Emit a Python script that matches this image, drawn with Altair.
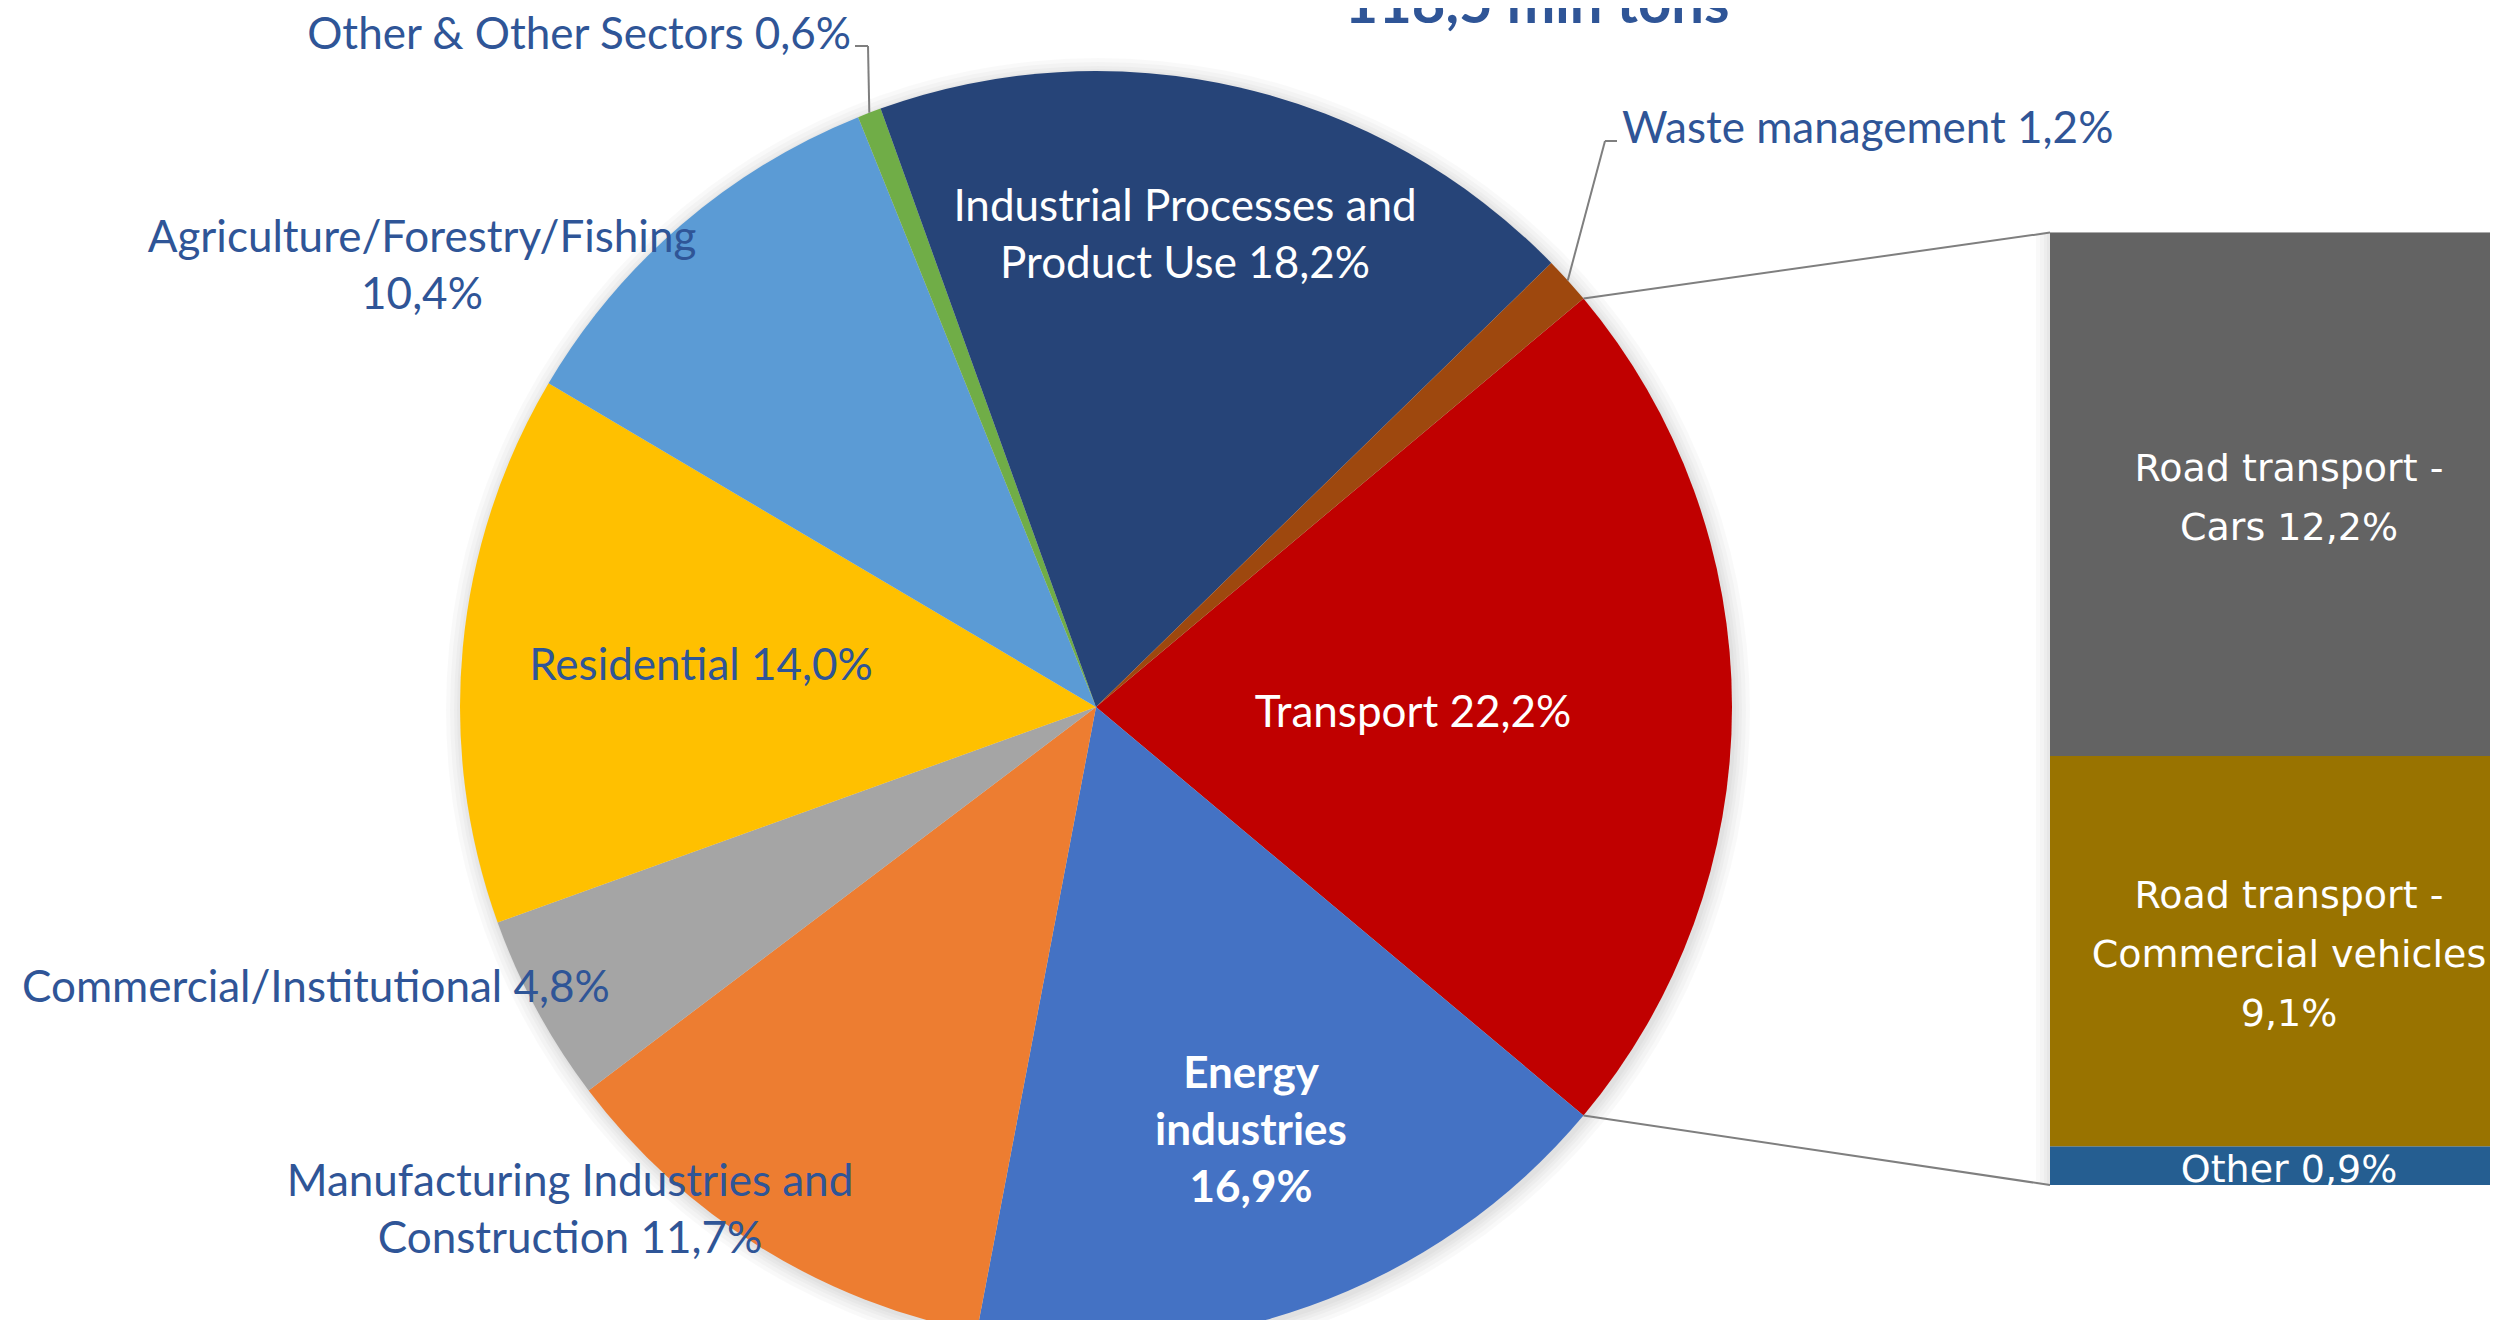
import math
import altair as alt
import pandas as pd

# ---------------- data ----------------
sectors = [
    "Transport",
    "Energy industries",
    "Manufacturing Industries and Construction",
    "Commercial/Institutional",
    "Residential",
    "Agriculture/Forestry/Fishing",
    "Other & Other Sectors",
    "Industrial Processes and Product Use",
    "Waste management",
]
shares = [22.2, 16.9, 11.7, 4.8, 14.0, 10.4, 0.6, 18.2, 1.2]
sector_colors = ["#C00000", "#4472C4", "#ED7D31", "#A5A5A5", "#FFC000",
                 "#5B9BD5", "#70AD47", "#264478", "#9E480E"]
sector_labels = [
    "Transport 22,2%",
    "Energy\nindustries\n16,9%",
    "Manufacturing Industries and\nConstruction 11,7%",
    "Commercial/Institutional 4,8%",
    "Residential 14,0%",
    "Agriculture/Forestry/Fishing\n10,4%",
    "Other & Other Sectors 0,6%",
    "Industrial Processes and\nProduct Use 18,2%",
    "Waste management 1,2%",
]

sub_categories = ["Road transport - Cars", "Road transport - Commercial vehicles", "Other"]
sub_shares = [12.2, 9.1, 0.9]
sub_colors = ["#636363", "#997300", "#255E91"]
sub_labels = ["Road transport -\nCars 12,2%",
              "Road transport -\nCommercial vehicles\n9,1%",
              "Other 0,9%"]

title_text = "118,5 mln tons"

# ---------------- layout ----------------
W, H = 2482, 1312
CX, CY, R = 1088, 699, 636
BAR_X0, BAR_X1 = 2042, 2520
BAR_TOP, BAR_BOTTOM = 224.6, 1177
TEXT_BLUE = "#2F5597"
LINE_GREY = "#7F7F7F"
FONT = "Lato"
PIE_FS, PIE_LH = 44, 57
BAR_FS, BAR_LH = 38, 59

# label placement (block centre in pixels, style per label)
label_layout = {
    "Transport": (1405, 703, "center", "white", "normal"),
    "Energy industries": (1243, 1121, "center", "white", "bold"),
    "Manufacturing Industries and Construction": (562, 1200, "center", TEXT_BLUE, "normal"),
    "Commercial/Institutional": (14, 978, "left", TEXT_BLUE, "normal"),
    "Residential": (693, 656, "center", TEXT_BLUE, "normal"),
    "Agriculture/Forestry/Fishing": (414, 256, "center", TEXT_BLUE, "normal"),
    "Other & Other Sectors": (843, 25, "right", TEXT_BLUE, "normal"),
    "Industrial Processes and Product Use": (1177, 225, "center", "white", "normal"),
    "Waste management": (1614, 119, "left", TEXT_BLUE, "normal"),
}
PIE_DY = 3
BAR_DY = 5

total = sum(shares)
t0 = math.pi / 2 - math.pi * shares[0] / total   # transport centred at 3 o'clock


def polar(angle, rad):
    return CX + rad * math.sin(angle), CY - rad * math.cos(angle)


starts, ends = [], []
acc = 0.0
for s in shares:
    starts.append(t0 + 2 * math.pi * acc / total)
    acc += s
    ends.append(t0 + 2 * math.pi * acc / total)

pie_df = pd.DataFrame({"sector": sectors, "share": shares, "idx": list(range(len(sectors)))})

pie = alt.Chart(pie_df).mark_arc(radius=R, strokeWidth=0).encode(
    theta=alt.Theta("share:Q", stack=True,
                    scale=alt.Scale(domain=[0, total], range=[t0, t0 + 2 * math.pi])),
    color=alt.Color("sector:N", scale=alt.Scale(domain=sectors, range=sector_colors), legend=None),
    order=alt.Order("idx:Q"),
    x=alt.value(CX),
    y=alt.value(CY),
)

shadow_layers = []
for k in [16, 12, 8, 5, 2]:
    shadow_layers.append(
        alt.Chart(pd.DataFrame({"a": [0]})).mark_arc(
            radius=R + k, theta=0, theta2=2 * math.pi, color="black", opacity=0.022
        ).encode(x=alt.value(CX + 2), y=alt.value(CY + 3))
    )

# ---------------- bar of pie ----------------
sub_total = sum(sub_shares)
y0s, y1s = [], []
acc = 0.0
for s in reversed(sub_shares):
    y0s.append(acc)
    acc += s
    y1s.append(acc)
y0s = list(reversed(y0s))
y1s = list(reversed(y1s))
bar_df = pd.DataFrame({"cat": sub_categories, "share": sub_shares, "y0": y0s, "y1": y1s,
                       "mid": [(a + b) / 2 for a, b in zip(y0s, y1s)], "label": sub_labels})
bar_df["lines"] = bar_df["label"].str.count("\n")
yscale = alt.Scale(domain=[0, sub_total], range=[BAR_BOTTOM, BAR_TOP])

bar_shadow = []
for k in [14, 10, 6, 3]:
    bar_shadow.append(
        alt.Chart(bar_df).mark_rect(color="black", opacity=0.022).encode(
            x=alt.value(BAR_X0 - k), x2=alt.value(BAR_X1 + k),
            y=alt.Y("min(y0):Q", scale=yscale, axis=None),
            y2=alt.Y2("max(y1):Q"),
        )
    )

bars = alt.Chart(bar_df).mark_rect(strokeWidth=0).encode(
    x=alt.value(BAR_X0), x2=alt.value(BAR_X1),
    y=alt.Y("y0:Q", scale=yscale, axis=None),
    y2="y1:Q",
    color=alt.Color("cat:N", scale=alt.Scale(domain=sub_categories, range=sub_colors), legend=None),
)

bar_text_layers = []
for n in sorted(bar_df["lines"].unique()):
    sub = bar_df[bar_df["lines"] == n]
    bar_text_layers.append(
        alt.Chart(sub).mark_text(
            font="DejaVu Sans", fontSize=BAR_FS, color="white", lineBreak="\n",
            lineHeight=BAR_LH, align="center", baseline="middle",
            dy=float(-n * BAR_LH / 2 + BAR_DY)
        ).encode(
            x=alt.value((BAR_X0 + BAR_X1) / 2),
            y=alt.Y("mid:Q", scale=yscale, axis=None),
            text="label:N",
        )
    )

# ---------------- pie labels ----------------
lab_rows = []
for name, lab in zip(sectors, sector_labels):
    px, py, al, col, fw = label_layout[name]
    n = lab.count("\n")
    lab_rows.append({"label": lab, "px": px, "py": py - n * PIE_LH / 2 + PIE_DY,
                     "align": al, "col": col, "fw": fw})
lab_df = pd.DataFrame(lab_rows)

text_layers = []
for al in ["left", "center", "right"]:
    for fw in ["normal", "bold"]:
        sub = lab_df[(lab_df["align"] == al) & (lab_df["fw"] == fw)]
        if len(sub) == 0:
            continue
        text_layers.append(
            alt.Chart(sub).mark_text(
                font=FONT, fontSize=PIE_FS, fontWeight=fw, lineBreak="\n", lineHeight=PIE_LH,
                align=al, baseline="middle"
            ).encode(
                x=alt.X("px:Q", scale=None, axis=None),
                y=alt.Y("py:Q", scale=None, axis=None),
                text="label:N",
                color=alt.Color("col:N", scale=None),
            )
        )

title = alt.Chart(pd.DataFrame({"t": [title_text]})).mark_text(
    font=FONT, fontSize=58, fontWeight="bold", color=TEXT_BLUE, align="center",
    baseline="alphabetic"
).encode(x=alt.value(1529), y=alt.value(15), text="t:N")

# ---------------- leader / connector lines ----------------
i_other = sectors.index("Other & Other Sectors")
i_waste = sectors.index("Waste management")
ox, oy = polar((starts[i_other] + ends[i_other]) / 2, R)
wx, wy = polar((starts[i_waste] + ends[i_waste]) / 2, R)
tx0, ty0 = polar(starts[0], R)
tx1, ty1 = polar(ends[0], R)
segs = [
    (847, 38, 860, 38), (860, 38, ox, oy),
    (1609, 133, 1597, 133), (1597, 133, wx, wy),
    (tx0, ty0, BAR_X0, BAR_TOP), (tx1, ty1, BAR_X0, BAR_BOTTOM),
]
seg_df = pd.DataFrame(segs, columns=["x", "y", "x2", "y2"])
lines = alt.Chart(seg_df).mark_rule(color=LINE_GREY, strokeWidth=2).encode(
    x=alt.X("x:Q", scale=None, axis=None), y=alt.Y("y:Q", scale=None, axis=None),
    x2="x2:Q", y2="y2:Q",
)

chart = alt.layer(
    *shadow_layers, *bar_shadow, pie, bars, lines, *bar_text_layers, *text_layers, title
).resolve_scale(
    x="independent", y="independent", color="independent", theta="independent"
).properties(
    width=W, height=H, padding=0, autosize=alt.AutoSizeParams(type="none"),
    background="white",
).configure_view(stroke=None)

chart.save("out.html", embed_options={"renderer": "svg", "actions": False})
